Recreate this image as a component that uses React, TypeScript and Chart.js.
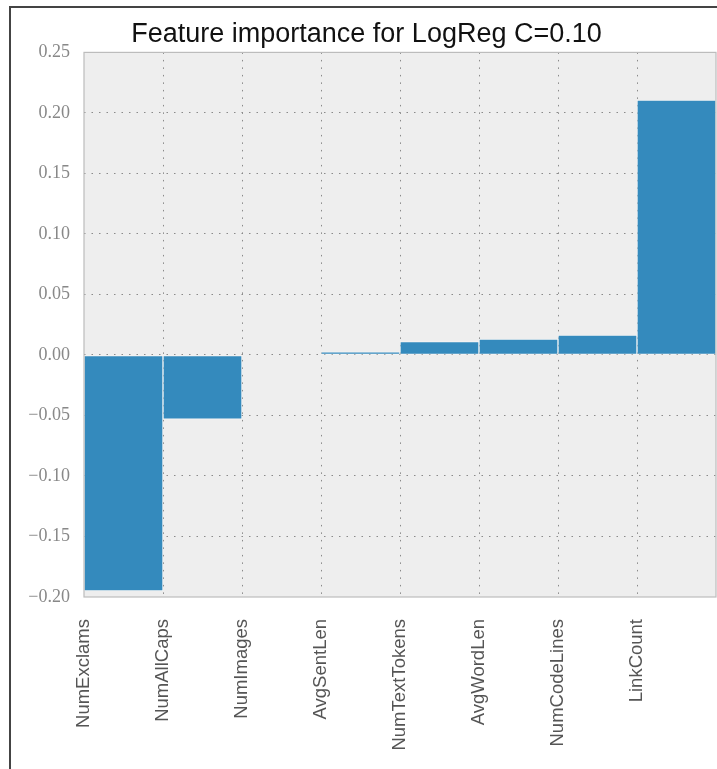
import React, { useEffect, useRef } from 'react';
import { Chart, registerables } from 'chart.js';

Chart.register(...registerables);

const features = [
  'NumExclams',
  'NumAllCaps',
  'NumImages',
  'AvgSentLen',
  'NumTextTokens',
  'AvgWordLen',
  'NumCodeLines',
  'LinkCount',
];
const importance = [-0.195, -0.053, 0.0, 0.0025, 0.011, 0.0132, 0.0165, 0.2105];
const yMin = -0.2;
const yMax = 0.25;
const yStep = 0.05;
const titleText = 'Feature importance for LogReg C=0.10';

const plotFrame = {
  id: 'plotFrame',
  beforeDraw(chart: any) {
    const { ctx, chartArea } = chart;
    const { left, top, width, height } = chartArea;
    ctx.save();
    ctx.fillStyle = '#eeeeee';
    ctx.fillRect(left, top, width, height);
    ctx.restore();
  },
  afterDatasetsDraw(chart: any) {
    const { ctx, chartArea } = chart;
    const { left, top, width, height } = chartArea;
    ctx.save();
    ctx.strokeStyle = '#bcbcbc';
    ctx.lineWidth = 1.2;
    ctx.strokeRect(left, top, width, height);
    ctx.restore();
  },
};

function fmt(v: number): string {
  if (Math.abs(v) < 1e-9) return '0.00';
  const s = Math.abs(v).toFixed(2);
  return v < 0 ? '\u2212' + s : s;
}

export default function App() {
  const ref = useRef<HTMLCanvasElement | null>(null);

  useEffect(() => {
    document.body.style.margin = '0';
    document.body.style.overflow = 'hidden';
    const canvas = ref.current;
    if (!canvas) return;
    const gridDash = [1.5, 6];
    const chart = new Chart(canvas, {
      type: 'bar',
      data: {
        labels: features,
        datasets: [
          {
            data: importance,
            xAxisID: 'x',
            yAxisID: 'y',
            backgroundColor: '#348ABD',
            borderColor: 'rgba(255,255,255,0.45)',
            borderWidth: 1,
            borderSkipped: false,
            barPercentage: 1,
            categoryPercentage: 1,
          },
        ],
      },
      options: {
        animation: false,
        responsive: false,
        devicePixelRatio: 1,
        layout: { padding: { left: 17, right: 17, top: 0, bottom: 0 } },
        plugins: {
          legend: { display: false },
          tooltip: { enabled: false },
          title: {
            display: true,
            text: titleText,
            color: '#111',
            font: { family: '"Liberation Sans", Arial, sans-serif', size: 27, weight: 'normal' },
            padding: { top: 18, bottom: 2 },
          },
        },
        scales: {
          x: {
            type: 'category',
            display: false,
            offset: true,
          },
          x2: {
            type: 'linear',
            position: 'bottom',
            min: 0,
            max: features.length,
            offset: false,
            afterFit: (scale: any) => {
              scale.height = 172;
              scale.paddingLeft = 0;
              scale.paddingRight = 0;
            },
            ticks: {
              stepSize: 1,
              autoSkip: false,
              maxRotation: 90,
              minRotation: 90,
              padding: 22,
              color: '#555',
              font: { family: '"Liberation Sans", Arial, sans-serif', size: 18.5 },
              callback: (value: any) => {
                const i = Math.round(Number(value));
                return i >= 0 && i < features.length ? features[i] : '';
              },
            },
            grid: {
              offset: false,
              drawTicks: false,
              lineWidth: 1,
              color: (ctx: any) => {
                const v = ctx.tick ? ctx.tick.value : 0;
                return v <= 0 || v >= features.length ? 'rgba(0,0,0,0)' : '#8a8a8a';
              },
            },
            border: { display: false, dash: gridDash },
          },
          y: {
            type: 'linear',
            position: 'left',
            min: yMin,
            max: yMax,
            afterFit: (scale: any) => {
              scale.width = 67;
            },
            ticks: {
              stepSize: yStep,
              padding: 14,
              color: '#888',
              font: { family: '"Liberation Serif", "DejaVu Serif", serif', size: 18 },
              callback: (value: any) => fmt(Number(value)),
            },
            grid: {
              drawTicks: false,
              lineWidth: 1,
              color: (ctx: any) => {
                const v = ctx.tick ? ctx.tick.value : 0;
                return v <= yMin + 1e-9 || v >= yMax - 1e-9 ? 'rgba(0,0,0,0)' : '#8a8a8a';
              },
            },
            border: { display: false, dash: gridDash },
          },
        },
      },
      plugins: [plotFrame],
    } as any);
    return () => chart.destroy();
  }, []);

  return (
    <div style={{ position: 'relative', width: 717, height: 769, overflow: 'hidden', background: '#fff' }}>
      <canvas
        ref={ref}
        width={733}
        height={769}
        style={{ position: 'absolute', left: 0, top: 0, width: 733, height: 769 }}
      />
      <div
        style={{
          position: 'absolute',
          left: 9,
          top: 6,
          width: 800,
          height: 800,
          borderLeft: '2px solid #444',
          borderTop: '2px solid #444',
          pointerEvents: 'none',
        }}
      />
    </div>
  );
}
